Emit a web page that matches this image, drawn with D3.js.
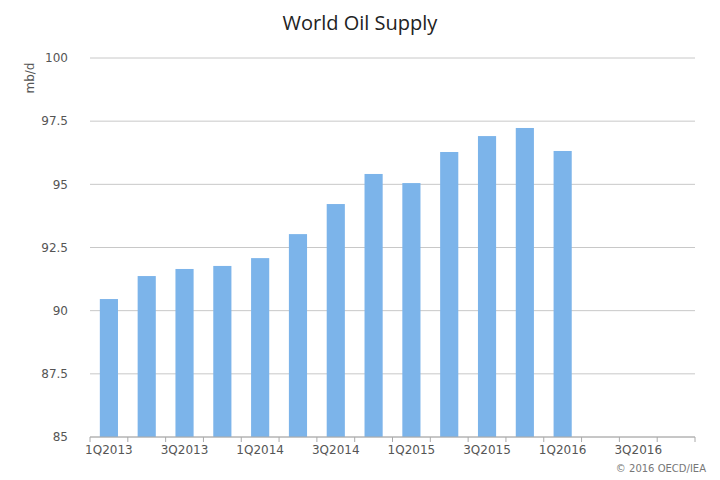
<!DOCTYPE html>
<html>
<head>
<meta charset="utf-8">
<script src="https://cdn.jsdelivr.net/npm/d3@7"></script>
<style>
  body { margin: 0; background: #fff; }
  svg { font-family: "DejaVu Sans", sans-serif; }
</style>
</head>
<body>
<script>
const quarters = ["1Q2013","2Q2013","3Q2013","4Q2013","1Q2014","2Q2014","3Q2014","4Q2014",
  "1Q2015","2Q2015","3Q2015","4Q2015","1Q2016","2Q2016","3Q2016","4Q2016"];
const supply = [90.46, 91.37, 91.65, 91.77, 92.08, 93.03, 94.22, 95.41,
  95.05, 96.28, 96.91, 97.23, 96.32, null, null, null];
const yTicks = [85, 87.5, 90, 92.5, 95, 97.5, 100];

const width = 720, height = 480;
const margin = { top: 58, right: 25, bottom: 43, left: 90 };

const svg = d3.select("body").append("svg")
  .attr("width", width).attr("height", height);

const x = d3.scaleBand().domain(quarters)
  .range([margin.left, width - margin.right]).paddingInner(0.52).paddingOuter(0.26);
const y = d3.scaleLinear().domain([85, 100]).range([height - margin.bottom, margin.top]);

// gridlines
svg.append("g").selectAll("line").data(yTicks).join("line")
  .attr("x1", margin.left).attr("x2", width - margin.right)
  .attr("y1", d => y(d)).attr("y2", d => y(d))
  .attr("stroke", "#c8c8c8");

svg.append("g").selectAll("text").data(yTicks).join("text")
  .attr("x", 68).attr("y", d => y(d)).attr("dy", "0.35em")
  .attr("text-anchor", "end").attr("font-size", 12).attr("fill", "#555")
  .text(d => d);

// bars
svg.append("g").selectAll("rect")
  .data(quarters.map((q, i) => ({ q, v: supply[i] })).filter(d => d.v != null))
  .join("rect")
  .attr("x", d => x(d.q)).attr("width", x.bandwidth())
  .attr("y", d => y(d.v)).attr("height", d => y(85) - y(d.v))
  .attr("fill", "#7cb4ea");

// x axis
const step = x.step();
const base = y(85);
svg.append("line").attr("x1", margin.left).attr("x2", width - margin.right)
  .attr("y1", base).attr("y2", base).attr("stroke", "#aaa");
const bounds = d3.range(quarters.length + 1).map(i => margin.left + i * step);
svg.append("g").selectAll("line").data(bounds).join("line")
  .attr("x1", d => d).attr("x2", d => d).attr("y1", base).attr("y2", base + 5)
  .attr("stroke", "#aaa");
svg.append("g").selectAll("text").data(quarters.filter((q, i) => i % 2 === 0)).join("text")
  .attr("x", d => x(d) + x.bandwidth() / 2).attr("y", base + 17)
  .attr("text-anchor", "middle").attr("font-size", 12).attr("fill", "#555")
  .text(d => d);

svg.append("text").attr("transform", "translate(34,78) rotate(-90)")
  .attr("text-anchor", "middle").attr("font-size", 12).attr("fill", "#555").text("mb/d");

svg.append("text").attr("x", 360).attr("y", 30).attr("text-anchor", "middle")
  .attr("font-family", "Open Sans, sans-serif").attr("font-size", 20).attr("fill", "#222")
  .text("World Oil Supply");

svg.append("text").attr("x", 706).attr("y", 472).attr("text-anchor", "end")
  .attr("font-size", 10).attr("fill", "#777").text("© 2016 OECD/IEA");
</script>
</body>
</html>
